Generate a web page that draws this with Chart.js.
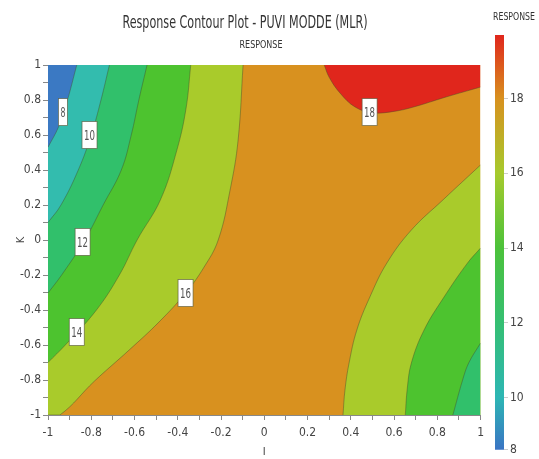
<!DOCTYPE html>
<html>
<head>
<meta charset="utf-8">
<title>Response Contour Plot - PUVI MODDE (MLR)</title>
<script src="https://cdn.jsdelivr.net/npm/chart.js@4.4.1/dist/chart.umd.min.js"></script>
<style>
  html, body { margin: 0; padding: 0; background: #fff; }
  #wrap { position: relative; width: 539px; height: 459px; }
  #plotCanvas { position: absolute; left: 0; top: 0; }
  #barCanvas { position: absolute; left: 480px; top: 0; }
</style>
</head>
<body>
<div id="wrap">
  <canvas id="plotCanvas" width="490" height="459"></canvas>
  <canvas id="barCanvas" width="59" height="459"></canvas>
</div>
<script>
// ========================================
// DATA
// ========================================
const axisTicks = [-1, -0.9, -0.8, -0.7, -0.6, -0.5, -0.4, -0.3, -0.2, -0.1, 0, 0.1, 0.2, 0.3, 0.4, 0.5, 0.6, 0.7, 0.8, 0.9, 1];

// Contour lines, left family (I, K)
const c8I = [-1, -0.95, -0.91, -0.867];
const c8K = [0.53, 0.65, 0.8, 1];
const c10I = [-1, -0.94, -0.86, -0.8, -0.755, -0.716];
const c10K = [0.1, 0.2, 0.4, 0.6, 0.8, 1];
const c12I = [-1, -0.937, -0.83, -0.745, -0.661, -0.615, -0.58, -0.542];
const c12K = [-0.303, -0.2, 0, 0.2, 0.4, 0.6, 0.8, 1];
const c14I = [-1, -0.92, -0.776, -0.67, -0.588, -0.48, -0.405, -0.362, -0.34];
const c14K = [-0.7, -0.6, -0.4, -0.2, 0, 0.23, 0.51, 0.75, 1];
const c16I = [-1, -0.945, -0.785, -0.625, -0.487, -0.364, -0.281, -0.213, -0.158, -0.121, -0.098];
const c16K = [-1, -1, -0.806, -0.629, -0.469, -0.303, -0.16, 0, 0.286, 0.571, 1];

// Contour lines, bottom-right family
const r16I = [0.364, 0.373, 0.392, 0.428, 0.488, 0.567, 0.68, 0.826, 1];
const r16K = [-1, -0.857, -0.703, -0.514, -0.326, -0.131, 0.057, 0.229, 0.429];
const r14I = [0.652, 0.661, 0.68, 0.739, 0.831, 0.94, 1];
const r14K = [-1, -0.85, -0.703, -0.514, -0.326, -0.131, -0.046];
const r12I = [0.872, 0.917, 0.945, 1];
const r12K = [-1, -0.8, -0.703, -0.589];

// Contour 18 (top)
const c18I = [0.277, 0.3, 0.35, 0.42, 0.5, 0.6, 0.69, 0.84, 1];
const c18K = [1, 0.93, 0.84, 0.76, 0.727, 0.735, 0.76, 0.817, 0.874];

// Full plot floor (band 16-18 underneath everything)
const floorI = [-1, 1];
const floorK = [-1, -1];

// Contour labels
const labelText = ["8", "10", "12", "14", "16", "18"];
const labelI = [-0.931, -0.808, -0.84, -0.867, -0.364, 0.487];
const labelK = [0.731, 0.6, -0.011, -0.526, -0.303, 0.731];

// Colour bar
const colorbarMin = 8.6;
const colorbarMax = 19.7;
const colorbarTickValues = [8.6, 10, 12, 14, 16, 18];
const colorbarTickLabels = ["8", "10", "12", "14", "16", "18"];

// ========================================
// STYLE
// ========================================
const FONT = '"Liberation Sans Narrow", "DejaVu Sans Condensed", "Open Sans", sans-serif';
const band = {
  below8: "#3b79c3",
  b8to10: "#33bcae",
  b10to12: "#31c06b",
  b12to14: "#4dc32f",
  b14to16: "#a9cb2b",
  b16to18: "#d8911f",
  above18: "#e0261c",
};
const lineColor = "rgba(70,75,45,0.55)";
const cbStops = [
  [8.6, "#3a74c4"],
  [10, "#2db6b4"],
  [12, "#35bf72"],
  [14, "#4cc23a"],
  [16, "#a6ca2d"],
  [18, "#d8911f"],
  [19.7, "#e0261c"],
];

const toPoints = (xs, ys) => xs.map((x, i) => ({ x: x, y: ys[i] }));

function contourSet(xs, ys, color, fill, order, lineW) {
  return {
    data: toPoints(xs, ys),
    showLine: true,
    fill: fill,
    backgroundColor: color,
    borderColor: lineColor,
    borderWidth: lineW === undefined ? 0.8 : lineW,
    pointRadius: 0,
    pointHoverRadius: 0,
    tension: 0.4,
    order: order,
  };
}

function tickLabel(v) {
  const r = Math.round(v * 10);
  if (r % 2 !== 0) return "";
  return r === 0 ? "0" : String(r / 10);
}

// ========================================
// PLUGINS
// ========================================
function drawNarrowText(ctx, text, x, y, fontPx, targetW, color) {
  ctx.save();
  ctx.font = fontPx + "px " + FONT;
  const w = ctx.measureText(text).width;
  ctx.translate(x, y);
  if (targetW) ctx.scale(targetW / w, 1);
  ctx.fillStyle = color;
  ctx.textAlign = "center";
  ctx.textBaseline = "middle";
  ctx.fillText(text, 0, 0);
  ctx.restore();
}

const headerPlugin = {
  id: "header",
  afterDraw(chart) {
    const ctx = chart.ctx;
    drawNarrowText(ctx, "Response Contour Plot - PUVI MODDE (MLR)", 245, 24, 17, 245, "#333");
    drawNarrowText(ctx, "RESPONSE", 261, 45, 11, 43, "#333");
  },
};

const contourLabelPlugin = {
  id: "contourLabels",
  afterDatasetsDraw(chart) {
    const { ctx, scales } = chart;
    labelText.forEach((t, i) => {
      const px = scales.x.getPixelForValue(labelI[i]);
      const py = scales.y.getPixelForValue(labelK[i]);
      const w = t.length === 1 ? 9 : 15;
      const h = 27;
      ctx.save();
      ctx.fillStyle = "#fff";
      ctx.fillRect(px - w / 2, py - h / 2, w, h);
      ctx.strokeStyle = "rgba(90,90,60,0.8)";
      ctx.lineWidth = 0.8;
      ctx.strokeRect(px - w / 2, py - h / 2, w, h);
      ctx.restore();
      drawNarrowText(ctx, t, px, py + 1, 14, w - 4, "#555");
    });
  },
};

const colorbarTitlePlugin = {
  id: "cbTitle",
  afterDraw(chart) {
    drawNarrowText(chart.ctx, "RESPONSE", 34, 17, 11, 42, "#333");
  },
};

// ========================================
// MAIN CONTOUR CHART
// ========================================
const gridOpts = { drawOnChartArea: false, drawTicks: true, tickLength: 5, tickColor: "#888" };

new Chart(document.getElementById("plotCanvas"), {
  type: "scatter",
  data: {
    datasets: [
      contourSet(floorI, floorK, band.b16to18, "end", 30, 0),
      contourSet(c16I, c16K, band.b14to16, "end", 16),
      contourSet(c14I, c14K, band.b12to14, "end", 15),
      contourSet(c12I, c12K, band.b10to12, "end", 14),
      contourSet(c10I, c10K, band.b8to10, "end", 13),
      contourSet(c8I, c8K, band.below8, "end", 12),
      contourSet(r16I, r16K, band.b14to16, "start", 16),
      contourSet(r14I, r14K, band.b12to14, "start", 15),
      contourSet(r12I, r12K, band.b10to12, "start", 14),
      contourSet(c18I, c18K, band.above18, "end", 12),
    ],
  },
  options: {
    responsive: false,
    animation: false,
    devicePixelRatio: 1,
    layout: { padding: { top: 65, right: 5, left: 0, bottom: 0 } },
    plugins: {
      legend: { display: false },
      tooltip: { enabled: false },
    },
    scales: {
      x: {
        type: "linear",
        min: -1,
        max: 1,
        afterBuildTicks: (s) => { s.ticks = axisTicks.map((v) => ({ value: v })); },
        afterFit: (s) => { s.height = 44; },
        ticks: {
          autoSkip: false,
          maxRotation: 0,
          padding: 6,
          color: "#444",
          font: { family: FONT, size: 12 },
          callback: (v) => tickLabel(v),
        },
        grid: gridOpts,
        border: { display: true, color: "#888" },
        title: { display: true, text: "I", color: "#444", font: { family: FONT, size: 11 }, padding: { top: 0, bottom: 0 } },
      },
      y: {
        type: "linear",
        min: -1,
        max: 1,
        afterBuildTicks: (s) => { s.ticks = axisTicks.map((v) => ({ value: v })); },
        afterFit: (s) => { s.width = 48; },
        ticks: {
          autoSkip: false,
          padding: 2,
          color: "#444",
          font: { family: FONT, size: 12 },
          callback: (v) => tickLabel(v),
        },
        grid: gridOpts,
        border: { display: true, color: "#888" },
        title: { display: true, text: "K", color: "#444", font: { family: FONT, size: 11 }, padding: { top: 15, bottom: 0 } },
      },
    },
  },
  plugins: [contourLabelPlugin, headerPlugin],
});

// ========================================
// COLOUR BAR
// ========================================
function colorbarGradient(context) {
  const chart = context.chart;
  if (!chart.chartArea) return band.b16to18;
  const y = chart.scales.y;
  const y0 = y.getPixelForValue(colorbarMin);
  const y1 = y.getPixelForValue(colorbarMax);
  const g = chart.ctx.createLinearGradient(0, y0, 0, y1);
  cbStops.forEach(([v, c]) => g.addColorStop((v - colorbarMin) / (colorbarMax - colorbarMin), c));
  return g;
}

new Chart(document.getElementById("barCanvas"), {
  type: "bar",
  data: {
    labels: ["RESPONSE"],
    datasets: [
      {
        data: [[colorbarMin, colorbarMax]],
        backgroundColor: colorbarGradient,
        borderWidth: 0,
        barPercentage: 1,
        categoryPercentage: 1,
      },
    ],
  },
  options: {
    responsive: false,
    animation: false,
    devicePixelRatio: 1,
    layout: { padding: { left: 15, top: 35, bottom: 6, right: 0 } },
    plugins: {
      legend: { display: false },
      tooltip: { enabled: false },
    },
    scales: {
      x: { display: false },
      y: {
        position: "right",
        min: colorbarMin,
        max: colorbarMax,
        afterBuildTicks: (s) => { s.ticks = colorbarTickValues.map((v) => ({ value: v })); },
        afterFit: (s) => { s.width = 35; },
        ticks: {
          autoSkip: false,
          padding: 2,
          color: "#444",
          font: { family: FONT, size: 12 },
          callback: (v) => colorbarTickLabels[colorbarTickValues.indexOf(v)],
        },
        grid: { drawOnChartArea: false, tickLength: 4, tickColor: "#ccc" },
        border: { display: false },
      },
    },
  },
  plugins: [colorbarTitlePlugin],
});
</script>
</body>
</html>
